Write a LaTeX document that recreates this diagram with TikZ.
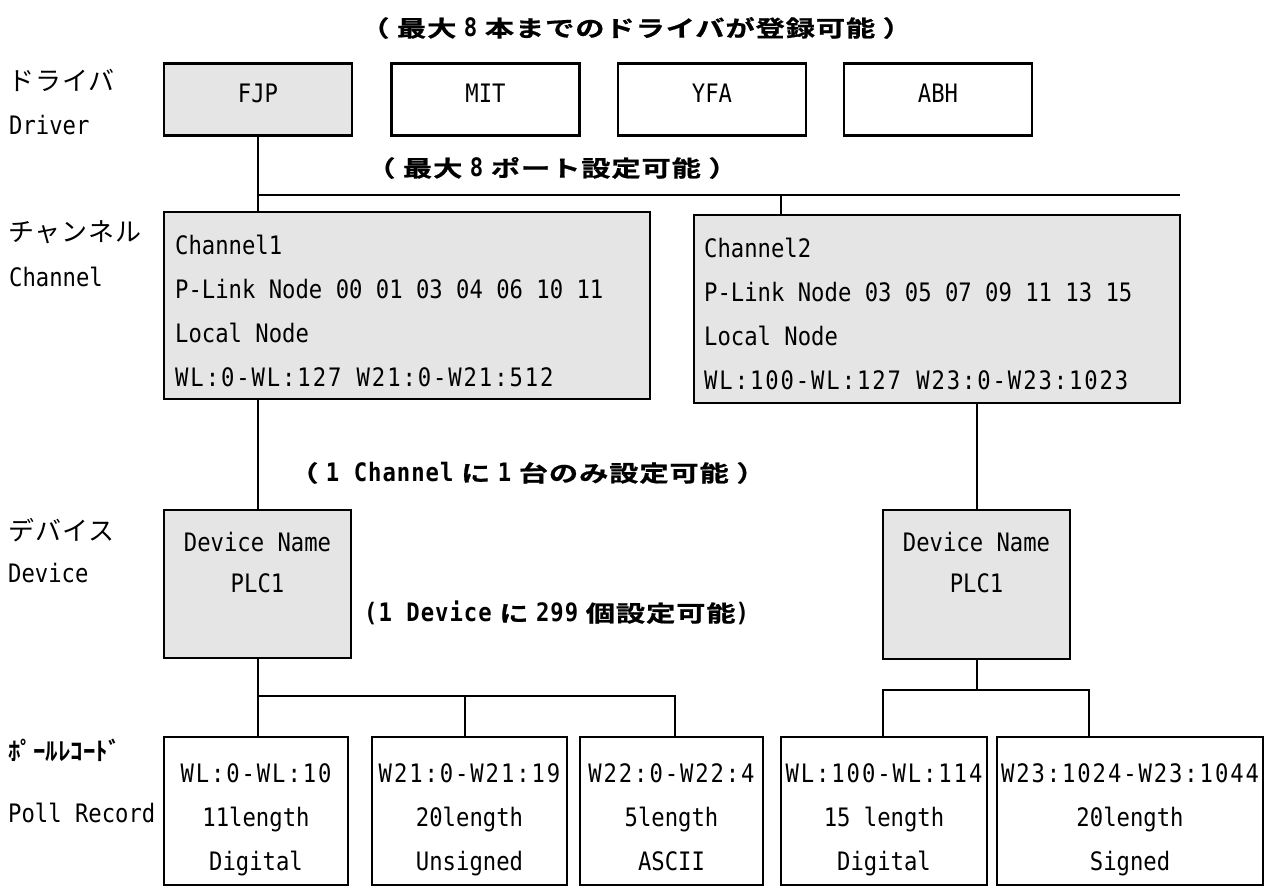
\documentclass[tikz,border=0pt]{standalone}
\usepackage{fontspec}
\setmainfont{DejaVu Sans}
\newfontfamily\monof[FakeStretch=0.875]{DejaVu Sans Mono}
\newfontfamily\monow[FakeStretch=0.875,LetterSpace=7.5]{DejaVu Sans Mono}
\newfontfamily\monob[FakeStretch=0.875,LetterSpace=4]{DejaVu Sans Mono Bold}
\newfontfamily\jpreg[LetterSpace=4]{Noto Sans CJK JP}
\newfontfamily\jpbold[FakeStretch=1.3,FakeBold=0.8,LetterSpace=4]{Noto Sans CJK JP Bold}
\newfontfamily\jphalf{Noto Sans CJK JP Bold}
\definecolor{boxgray}{RGB}{229,229,229}
\tikzset{
  box/.style={draw=black, line width=2.4pt, inner sep=0pt},
  gbox/.style={box, fill=boxgray},
  wbox/.style={box, fill=white},
  conn/.style={draw=black, line width=2pt},
  drvbox/.style={minimum width=188pt, minimum height=72pt, text height=18.5pt, text depth=12pt,
     font=\monof\fontsize{25.4}{44}\selectfont},
  mtext/.style={inner sep=0pt, font=\monof\fontsize{25.4}{44}\selectfont},
  ctext/.style={mtext, align=center, anchor=north},
  ltext/.style={mtext, align=left, anchor=north west},
  jplabel/.style={inner sep=0pt, anchor=west, font=\jpreg\fontsize{26}{30}\selectfont},
  enlabel/.style={inner sep=0pt, anchor=west, font=\monof\fontsize{25.4}{30}\selectfont},
  note/.style={inner sep=0pt, anchor=west, font=\jpbold\fontsize{22.5}{28}\selectfont},
}
\newcommand{\lat}[1]{{\monob\fontsize{25.4}{28}\selectfont #1}}
\begin{document}
\begin{tikzpicture}[x=1pt, y=-1pt]
\useasboundingbox (0,0) rectangle (1271,887);

% titles / notes
\node[note] (n1) at (360,28) {（ 最大 \lat{8} 本までのドライバが登録可能 ）};
\node[note] (n2) at (366,168) {（ 最大 \lat{8} ポート設定可能 ）};
\node[note] (n3) at (289,473) {（ \lat{1 Channel} に \lat{1} 台のみ設定可能 ）};
\node[note] (n4) at (364,613) {\lat{(1 Device} に \lat{299} 個設定可能\lat{)}};

% left labels
\node[jplabel] (lDrvJ) at (8,80) {ドライバ};
\node[enlabel] (lDrvE) at (9,125) {Driver};
\node[jplabel] (lChJ) at (8,232) {チャンネル};
\node[enlabel] (lChE) at (9,277) {Channel};
\node[jplabel] (lDevJ) at (8,530) {デバイス};
\node[enlabel] (lDevE) at (8,573) {Device};
\node[inner sep=0pt, anchor=west, font=\jphalf\fontsize{25}{30}\selectfont] (lPrJ) at (8,750) {ﾎﾟｰﾙﾚｺｰﾄﾞ};
\node[enlabel] (lPrE) at (8,813) {Poll Record};

% drivers
\node[gbox, drvbox] (fjp) at (258,99.5) {FJP};
\node[wbox, drvbox] (mit) at (485.5,99.5) {MIT};
\node[wbox, drvbox] (yfa) at (712,99.5) {YFA};
\node[wbox, drvbox] (abh) at (938,99.5) {ABH};

% channels
\node[gbox, minimum width=486pt, minimum height=187pt] (ch1) at (407,305.5) {};
\node[gbox, minimum width=486pt, minimum height=188pt] (ch2) at (937,309) {};
\node[ltext] (ch1t) at (175,235) {Channel1\\P-Link Node 00 01 03 04 06 10 11\\Local Node\\{\monow WL:0-WL:127 W21:0-W21:512}};
\node[ltext] (ch2t) at (704,238) {Channel2\\P-Link Node 03 05 07 09 11 13 15\\Local Node\\{\monow WL:100-WL:127 W23:0-W23:1023}};

% devices
\node[gbox, minimum width=187pt, minimum height=148pt] (dev1) at (257.5,584) {};
\node[gbox, minimum width=187pt, minimum height=149pt] (dev2) at (976.5,584.5) {};
\node[ctext, font=\monof\fontsize{25.4}{41}\selectfont] (dev1t) at (257.5,532) {Device Name\\PLC1};
\node[ctext, font=\monof\fontsize{25.4}{41}\selectfont] (dev2t) at (976.5,532) {Device Name\\PLC1};

% poll records
\node[wbox, minimum width=184pt, minimum height=148pt] (p1) at (256,811) {};
\node[wbox, minimum width=195pt, minimum height=148pt] (p2) at (469.5,811) {};
\node[wbox, minimum width=183pt, minimum height=148pt] (p3) at (671.5,811) {};
\node[wbox, minimum width=206pt, minimum height=148pt] (p4) at (884,811) {};
\node[wbox, minimum width=266pt, minimum height=148pt] (p5) at (1130,811) {};
\node[ctext] (p1t) at (256,763) {{\monow WL:0-WL:10}\\11length\\Digital};
\node[ctext] (p2t) at (469.5,763) {{\monow W21:0-W21:19}\\20length\\Unsigned};
\node[ctext] (p3t) at (671.5,763) {{\monow W22:0-W22:4}\\5length\\ASCII};
\node[ctext] (p4t) at (884,763) {{\monow WL:100-WL:114}\\15 length\\Digital};
\node[ctext] (p5t) at (1130,763) {{\monow W23:1024-W23:1044}\\20length\\Signed};

% connectors
\coordinate (busR) at (1180,195);
\coordinate (b2) at (781,195);
\draw[conn] (fjp.south) -- (fjp.south |- ch1.north);
\draw[conn] (fjp.south |- busR) -- (busR);
\draw[conn] (b2) -- (b2 |- ch2.north);
\draw[conn] (ch1.south -| dev1.north) -- (dev1.north);
\draw[conn] (ch2.south -| dev2.north) -- (dev2.north);

\coordinate (j1) at (257.5,696);
\coordinate (j2) at (465,696);
\coordinate (j3) at (675,696);
\draw[conn] (dev1.south) -- (j1) -- (j3) -- (j3 |- p3.north);
\draw[conn] (j1) -- (j1 |- p1.north);
\draw[conn] (j2) -- (j2 |- p2.north);

\coordinate (k1) at (883,690);
\coordinate (k2) at (1089,690);
\draw[conn] (dev2.south) -- (dev2.south |- k1);
\draw[conn] (k1 |- p4.north) -- (k1) -- (k2) -- (k2 |- p5.north);
\end{tikzpicture}
\end{document}
